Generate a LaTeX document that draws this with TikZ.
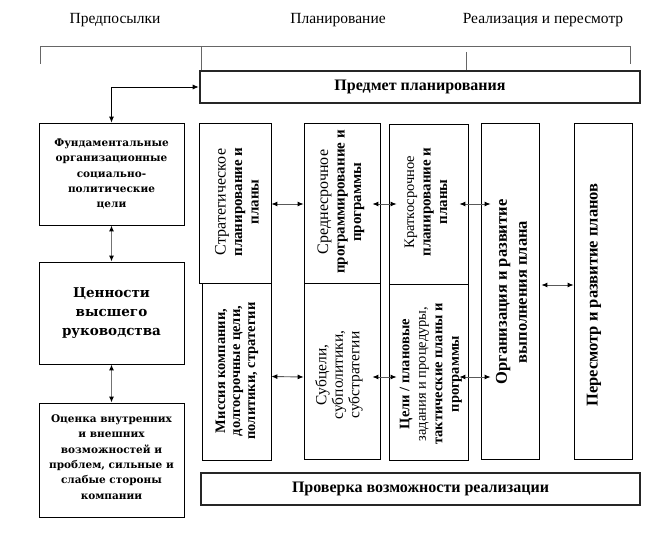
\documentclass[tikz,border=0pt]{standalone}
\usepackage{fontspec}
\setmainfont{Liberation Serif}
\newfontfamily\cambfont{DejaVu Serif}
\usetikzlibrary{arrows.meta,calc}

\tikzset{
  box/.style={draw, line width=0.8pt, inner sep=0pt},
  framebox/.style={draw=black!85, line width=2.6pt, inner sep=0pt, font=\bfseries\fontsize{16}{18}\selectfont},
  lefttext/.style={align=center, inner sep=0pt, font=\cambfont\bfseries\fontsize{10.5}{15.3}\selectfont},
  vtext/.style={rotate=90, align=center, inner sep=0pt, font=\fontsize{15}{16.5}\selectfont},
  head/.style={font=\fontsize{15.5}{17}\selectfont},
  tip/.tip={Latex[length=6pt,width=5pt,color=black]},
  hlink/.style={draw=black!65, line width=0.9pt, tip-tip},
  vlink/.style={draw=black!55, line width=1.6pt, tip-tip}
}

\begin{document}
\begin{tikzpicture}[x=1pt,y=-1pt]
            \useasboundingbox (0,0) rectangle (660,532);
            % stages
            \node[head] (pre) at (115,20) {Предпосылки};
            \node[head] (plan) at (338,20) {Планирование};
            \node[head] (real) at (543,20) {Реализация и пересмотр};
            \draw[black!60, line width=0.8pt] (40,64) -- (40,46) -- (630,46) -- (630,64);
            \draw[black!60, line width=0.8pt] (201,46) -- (201,71);
            \draw[black!60, line width=0.8pt] (466,52) -- (466,71);

            \node[framebox, minimum width=440, minimum height=32] (subj) at (420,87) {Предмет планирования};
            \node[framebox, minimum width=439, minimum height=32] (check) at (420.5,489) {Проверка возможности реализации};

            % left column
            \node[box, minimum width=145, minimum height=102] (fund) at (111.5,174) {};
            \node[lefttext] (fund-t) at (fund) {Фундаментальные\\организационные\\социально-\\политические\\цели};
            \node[box, minimum width=145, minimum height=102] (vals) at (111.5,313) {};
            \node[lefttext, font=\cambfont\bfseries\fontsize{13.5}{19}\selectfont] (vals-t) at (vals) {Ценности\\высшего\\руководства};
            \node[box, minimum width=145, minimum height=114] (eval) at (111.5,460) {};
            \node[lefttext] (eval-t) at (111.5,457) {Оценка внутренних\\и внешних\\возможностей и\\проблем, сильные и\\слабые стороны\\компании};

            % planning columns
            \node[box, minimum width=72, minimum height=160] (strat) at (235,203) {};
            \node[vtext] (strat-t) at (237,202) {{\fontsize{16}{16.5}\selectfont Стратегическое}\\\textbf{планирование и}\\\textbf{планы}};
            \node[box, minimum width=69, minimum height=177] (miss) at (236.5,371.5) {};
            \node[vtext, font=\bfseries\fontsize{14.5}{15}\selectfont] (miss-t) at (237,371) {Миссия компании,\\долгосрочные цели,\\политики, стратегии};
            \node[box, minimum width=76, minimum height=160] (mid) at (342,203) {};
            \node[vtext] (mid-t) at (341,202) {{\fontsize{16}{16.5}\selectfont Среднесрочное}\\\textbf{программирование и}\\\textbf{программы}};
            \node[box, minimum width=76, minimum height=176] (sub) at (342,371) {};
            \node[vtext, font=\fontsize{15.5}{16.5}\selectfont] (sub-t) at (339,375) {Субцели,\\субполитики,\\субстратегии};
            \node[box, minimum width=79, minimum height=160] (short) at (428.5,204) {};
            \node[vtext] (short-t) at (426,202) {{\fontsize{14.5}{16.5}\selectfont Краткосрочное}\\\textbf{планирование и}\\\textbf{планы}};
            \node[box, minimum width=79, minimum height=176] (goal) at (428.5,372) {};
            \node[vtext, font=\bfseries\fontsize{14.5}{16.5}\selectfont] (goal-t) at (431,374) {Цели / плановые\\{\mdseries задания и процедуры,}\\тактические планы и\\программы};

            % realisation
            \node[box, minimum width=58, minimum height=336] (org) at (510,291) {};
            \node[vtext, font=\bfseries\fontsize{16.5}{20}\selectfont] (org-t) at (511.5,292) {Организация и развитие\\выполнения плана};
            \node[box, minimum width=58, minimum height=336] (rev) at (603,291) {};
            \node[vtext, font=\bfseries\fontsize{16.5}{20}\selectfont] (rev-t) at (594,295) {Пересмотр и развитие планов};

            % links
            \draw[draw=black, line width=0.8pt, tip-tip] (subj.west) -| (fund.north);
            \draw[vlink] (fund) -- (vals);
            \draw[vlink] (vals) -- (eval);
            \draw[hlink] ($(strat.east)+(0,1)$) -- ($(mid.west)+(0,1)$);
            \draw[hlink] ($(miss.east)+(0,5)$) -- ($(sub.west)+(0,6)$);
            \draw[hlink] ($(mid.east)+(-8,1)$) -- ($(short.west)+(8,0)$);
            \draw[hlink] ($(sub.east)+(-8,6)$) -- ($(goal.west)+(8,5)$);
            \draw[hlink] ($(short.east)+(-9,0)$) -- ($(org.west |- short.east)+(10,0)$);
            \draw[hlink] ($(goal.east)+(-9,5)$) -- ($(org.west |- goal.east)+(10,5)$);
            \draw[hlink] ($(org.east)+(2,-6)$) -- ($(rev.west)+(0,-6)$);
        \end{tikzpicture}
\end{document}
